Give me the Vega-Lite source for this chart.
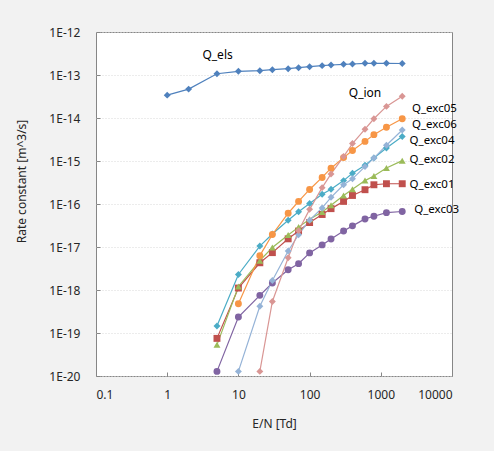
{
  "$schema": "https://vega.github.io/schema/vega-lite/v6.json",
  "width": 356,
  "height": 344,
  "autosize": "none",
  "padding": {"left": 96, "top": 32, "right": 42, "bottom": 75},
  "background": "#f2f2f2",
  "config": {
    "font": "Noto Sans",
    "view": {"stroke": "#868686", "strokeWidth": 1, "fill": "white"},
    "axis": {
      "labelFont": "Noto Sans",
      "labelFontSize": 12,
      "labelColor": "#262626",
      "titleFont": "Noto Sans",
      "titleFontSize": 12,
      "titleFontWeight": "normal",
      "titleColor": "#262626",
      "domain": false,
      "tickColor": "#868686"
    }
  },
  "datasets": {
    "rates": [
      {"series": "Q_els", "x": 1, "y": 3.4e-14},
      {"series": "Q_els", "x": 2, "y": 4.7e-14},
      {"series": "Q_els", "x": 5, "y": 1.07e-13},
      {"series": "Q_els", "x": 10, "y": 1.22e-13},
      {"series": "Q_els", "x": 20, "y": 1.26e-13},
      {"series": "Q_els", "x": 30, "y": 1.33e-13},
      {"series": "Q_els", "x": 50, "y": 1.4e-13},
      {"series": "Q_els", "x": 70, "y": 1.48e-13},
      {"series": "Q_els", "x": 100, "y": 1.56e-13},
      {"series": "Q_els", "x": 150, "y": 1.65e-13},
      {"series": "Q_els", "x": 200, "y": 1.71e-13},
      {"series": "Q_els", "x": 300, "y": 1.77e-13},
      {"series": "Q_els", "x": 400, "y": 1.8e-13},
      {"series": "Q_els", "x": 600, "y": 1.87e-13},
      {"series": "Q_els", "x": 800, "y": 1.87e-13},
      {"series": "Q_els", "x": 1200, "y": 1.87e-13},
      {"series": "Q_els", "x": 2000, "y": 1.85e-13},

      {"series": "Q_exc01", "x": 5, "y": 7.5e-20},
      {"series": "Q_exc01", "x": 10, "y": 1.11e-18},
      {"series": "Q_exc01", "x": 20, "y": 4.3e-18},
      {"series": "Q_exc01", "x": 30, "y": 7.4e-18},
      {"series": "Q_exc01", "x": 50, "y": 1.55e-17},
      {"series": "Q_exc01", "x": 70, "y": 2.35e-17},
      {"series": "Q_exc01", "x": 100, "y": 3.7e-17},
      {"series": "Q_exc01", "x": 150, "y": 5.7e-17},
      {"series": "Q_exc01", "x": 200, "y": 7.8e-17},
      {"series": "Q_exc01", "x": 300, "y": 1.15e-16},
      {"series": "Q_exc01", "x": 400, "y": 1.58e-16},
      {"series": "Q_exc01", "x": 600, "y": 2.15e-16},
      {"series": "Q_exc01", "x": 800, "y": 2.8e-16},
      {"series": "Q_exc01", "x": 1200, "y": 2.96e-16},
      {"series": "Q_exc01", "x": 2000, "y": 2.96e-16},

      {"series": "Q_exc02", "x": 5, "y": 5.3e-20},
      {"series": "Q_exc02", "x": 10, "y": 1.21e-18},
      {"series": "Q_exc02", "x": 20, "y": 4.8e-18},
      {"series": "Q_exc02", "x": 30, "y": 9.7e-18},
      {"series": "Q_exc02", "x": 50, "y": 1.9e-17},
      {"series": "Q_exc02", "x": 70, "y": 2.9e-17},
      {"series": "Q_exc02", "x": 100, "y": 4.4e-17},
      {"series": "Q_exc02", "x": 150, "y": 6.5e-17},
      {"series": "Q_exc02", "x": 200, "y": 9.4e-17},
      {"series": "Q_exc02", "x": 300, "y": 1.57e-16},
      {"series": "Q_exc02", "x": 400, "y": 2.2e-16},
      {"series": "Q_exc02", "x": 600, "y": 3.5e-16},
      {"series": "Q_exc02", "x": 800, "y": 4.5e-16},
      {"series": "Q_exc02", "x": 1200, "y": 6.9e-16},
      {"series": "Q_exc02", "x": 2000, "y": 1.02e-15},

      {"series": "Q_exc03", "x": 5, "y": 1.28e-20},
      {"series": "Q_exc03", "x": 10, "y": 2.35e-19},
      {"series": "Q_exc03", "x": 20, "y": 7.5e-19},
      {"series": "Q_exc03", "x": 30, "y": 1.45e-18},
      {"series": "Q_exc03", "x": 50, "y": 2.96e-18},
      {"series": "Q_exc03", "x": 70, "y": 4.1e-18},
      {"series": "Q_exc03", "x": 100, "y": 7.3e-18},
      {"series": "Q_exc03", "x": 150, "y": 1.12e-17},
      {"series": "Q_exc03", "x": 200, "y": 1.54e-17},
      {"series": "Q_exc03", "x": 300, "y": 2.35e-17},
      {"series": "Q_exc03", "x": 400, "y": 3.1e-17},
      {"series": "Q_exc03", "x": 600, "y": 4.5e-17},
      {"series": "Q_exc03", "x": 800, "y": 5.2e-17},
      {"series": "Q_exc03", "x": 1200, "y": 6.3e-17},
      {"series": "Q_exc03", "x": 2000, "y": 6.7e-17},

      {"series": "Q_exc04", "x": 5, "y": 1.46e-19},
      {"series": "Q_exc04", "x": 10, "y": 2.3e-18},
      {"series": "Q_exc04", "x": 20, "y": 1.05e-17},
      {"series": "Q_exc04", "x": 30, "y": 2.0e-17},
      {"series": "Q_exc04", "x": 50, "y": 4.2e-17},
      {"series": "Q_exc04", "x": 70, "y": 6.6e-17},
      {"series": "Q_exc04", "x": 100, "y": 1.03e-16},
      {"series": "Q_exc04", "x": 150, "y": 1.68e-16},
      {"series": "Q_exc04", "x": 200, "y": 2.2e-16},
      {"series": "Q_exc04", "x": 300, "y": 3.5e-16},
      {"series": "Q_exc04", "x": 400, "y": 5.2e-16},
      {"series": "Q_exc04", "x": 600, "y": 8.0e-16},
      {"series": "Q_exc04", "x": 800, "y": 1.17e-15},
      {"series": "Q_exc04", "x": 1200, "y": 2.0e-15},
      {"series": "Q_exc04", "x": 2000, "y": 3.7e-15},

      {"series": "Q_exc05", "x": 10, "y": 4.8e-19},
      {"series": "Q_exc05", "x": 20, "y": 6.3e-18},
      {"series": "Q_exc05", "x": 30, "y": 1.95e-17},
      {"series": "Q_exc05", "x": 50, "y": 6.1e-17},
      {"series": "Q_exc05", "x": 70, "y": 1.15e-16},
      {"series": "Q_exc05", "x": 100, "y": 2.18e-16},
      {"series": "Q_exc05", "x": 150, "y": 4.15e-16},
      {"series": "Q_exc05", "x": 200, "y": 6.8e-16},
      {"series": "Q_exc05", "x": 300, "y": 1.2e-15},
      {"series": "Q_exc05", "x": 400, "y": 1.76e-15},
      {"series": "Q_exc05", "x": 600, "y": 2.86e-15},
      {"series": "Q_exc05", "x": 800, "y": 4.1e-15},
      {"series": "Q_exc05", "x": 1200, "y": 6.1e-15},
      {"series": "Q_exc05", "x": 2000, "y": 9.6e-15},

      {"series": "Q_exc06", "x": 10, "y": 1.28e-20},
      {"series": "Q_exc06", "x": 20, "y": 4.2e-19},
      {"series": "Q_exc06", "x": 30, "y": 1.67e-18},
      {"series": "Q_exc06", "x": 50, "y": 8.1e-18},
      {"series": "Q_exc06", "x": 70, "y": 1.93e-17},
      {"series": "Q_exc06", "x": 100, "y": 4.2e-17},
      {"series": "Q_exc06", "x": 150, "y": 8.1e-17},
      {"series": "Q_exc06", "x": 200, "y": 1.43e-16},
      {"series": "Q_exc06", "x": 300, "y": 2.8e-16},
      {"series": "Q_exc06", "x": 400, "y": 3.85e-16},
      {"series": "Q_exc06", "x": 600, "y": 7.4e-16},
      {"series": "Q_exc06", "x": 800, "y": 1.17e-15},
      {"series": "Q_exc06", "x": 1200, "y": 2.33e-15},
      {"series": "Q_exc06", "x": 2000, "y": 5.25e-15},

      {"series": "Q_ion", "x": 20, "y": 1.28e-20},
      {"series": "Q_ion", "x": 30, "y": 5.4e-19},
      {"series": "Q_ion", "x": 50, "y": 5.6e-18},
      {"series": "Q_ion", "x": 70, "y": 2.4e-17},
      {"series": "Q_ion", "x": 100, "y": 7.5e-17},
      {"series": "Q_ion", "x": 150, "y": 2.4e-16},
      {"series": "Q_ion", "x": 200, "y": 5.0e-16},
      {"series": "Q_ion", "x": 300, "y": 1.27e-15},
      {"series": "Q_ion", "x": 400, "y": 2.55e-15},
      {"series": "Q_ion", "x": 600, "y": 5.5e-15},
      {"series": "Q_ion", "x": 800, "y": 9.6e-15},
      {"series": "Q_ion", "x": 1200, "y": 1.86e-14},
      {"series": "Q_ion", "x": 2000, "y": 3.22e-14}
    ],
    "centerLabels": [
      {"label": "Q_els", "x": 5.1, "y": 2.96e-13},
      {"label": "Q_ion", "x": 600, "y": 3.87e-14}
    ],
    "sideLabels": [
      {"label": "Q_exc05", "x": 2740, "y": 1.64e-14},
      {"label": "Q_exc06", "x": 2740, "y": 6.9e-15},
      {"label": "Q_exc04", "x": 2540, "y": 2.95e-15},
      {"label": "Q_exc02", "x": 2540, "y": 1.07e-15},
      {"label": "Q_exc01", "x": 2540, "y": 2.7e-16},
      {"label": "Q_exc03", "x": 2950, "y": 7.1e-17}
    ]
  },
  "encoding": {
    "x": {
      "field": "x",
      "type": "quantitative",
      "scale": {"type": "log", "domain": [0.1, 10000], "nice": false},
      "axis": {
        "title": "E/N [Td]",
        "values": [0.1, 1, 10, 100, 1000, 10000],
        "labelExpr": "format(datum.value, '~g')",
        "grid": false,
        "tickSize": -4,
        "labelPadding": 17,
        "titleY": 47,
        "titleBaseline": "middle"
      }
    },
    "y": {
      "field": "y",
      "type": "quantitative",
      "scale": {"type": "log", "domain": [1e-20, 1e-12], "nice": false},
      "axis": {
        "title": "Rate constant [m^3/s]",
        "values": [1e-20, 1e-19, 1e-18, 1e-17, 1e-16, 1e-15, 1e-14, 1e-13, 1e-12],
        "labelExpr": "'1E' + round(log(datum.value) / LN10)",
        "grid": true,
        "gridColor": "#d9d9d9",
        "gridDash": [1, 2],
        "tickSize": -4,
        "labelPadding": 20,
        "titleX": -75,
        "titleY": 149,
        "titleAngle": -90,
        "titleBaseline": "middle",
        "titleAlign": "center"
      }
    }
  },
  "layer": [
    {
      "data": {"name": "rates"},
      "mark": {"type": "line", "strokeWidth": 1.2},
      "encoding": {
        "color": {
          "field": "series",
          "type": "nominal",
          "scale": {
            "domain": ["Q_els", "Q_exc01", "Q_exc02", "Q_exc03", "Q_exc04", "Q_exc05", "Q_exc06", "Q_ion"],
            "range": ["#4f81bd", "#c0504d", "#9bbb59", "#8064a2", "#4bacc6", "#f79646", "#95b3d7", "#d99694"]
          },
          "legend": null
        }
      }
    },
    {
      "data": {"name": "rates"},
      "mark": {"type": "point", "filled": true, "opacity": 1, "size": 48},
      "encoding": {
        "color": {"field": "series", "type": "nominal", "legend": null},
        "shape": {
          "field": "series",
          "type": "nominal",
          "scale": {
            "domain": ["Q_els", "Q_exc01", "Q_exc02", "Q_exc03", "Q_exc04", "Q_exc05", "Q_exc06", "Q_ion"],
            "range": ["diamond", "square", "triangle-up", "circle", "diamond", "circle", "diamond", "diamond"]
          },
          "legend": null
        }
      }
    },
    {
      "data": {"name": "centerLabels"},
      "mark": {"type": "text", "align": "center", "baseline": "middle", "fontSize": 12, "color": "black"},
      "encoding": {"text": {"field": "label"}}
    },
    {
      "data": {"name": "sideLabels"},
      "mark": {"type": "text", "align": "left", "baseline": "middle", "fontSize": 11.5, "color": "black"},
      "encoding": {"text": {"field": "label"}}
    }
  ]
}
